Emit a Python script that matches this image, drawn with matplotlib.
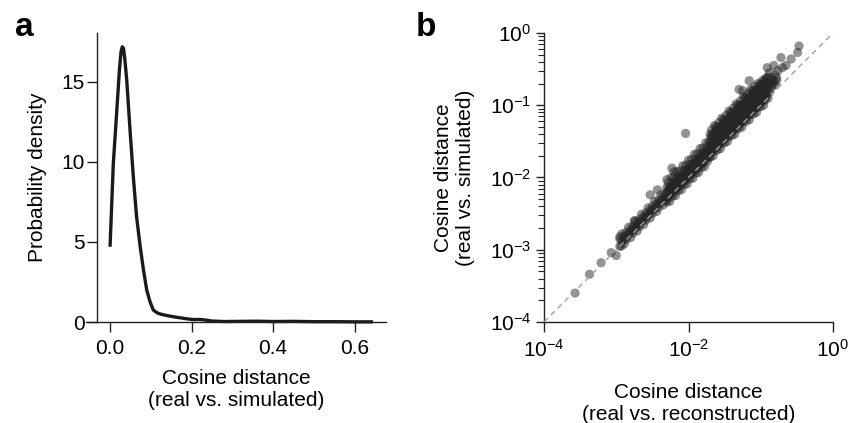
import numpy as np
import matplotlib.pyplot as plt
from matplotlib.ticker import LogLocator, NullLocator, NullFormatter

plt.rcParams['font.family'] = ['Liberation Sans', 'DejaVu Sans']
plt.rcParams['font.size'] = 15

# panel a: density of cosine distance (real vs simulated)
dens_x = [0.0, 0.008, 0.016, 0.023, 0.027, 0.030, 0.033, 0.036, 0.041, 0.049, 0.057,
          0.065, 0.074, 0.082, 0.090, 0.098, 0.106, 0.115, 0.123, 0.140, 0.155, 0.170,
          0.188, 0.205, 0.220, 0.235, 0.250, 0.280, 0.320, 0.360, 0.400, 0.450, 0.500,
          0.550, 0.600, 0.645]
dens_y = [4.7, 9.9, 13.0, 15.75, 16.9, 17.2, 17.1, 16.5, 15.1, 12.0, 9.1,
          6.6, 4.7, 3.25, 2.0, 1.27, 0.75, 0.58, 0.5, 0.4, 0.33, 0.27,
          0.2, 0.15, 0.16, 0.12, 0.06, 0.03, 0.04, 0.05, 0.03, 0.04, 0.02,
          0.02, 0.01, 0.01]

# panel b: log10 cosine distances, reconstructed (x) vs simulated (y)
# sparse points (tails and outliers)
sparse_x = [-3.57, -3.37, -3.21, -3.07, -3.00, -2.93, -2.95,
            -2.75, -2.53, -2.43, -2.30, -2.20, -2.23, -2.04,
            -1.30, -1.25, -1.16, -0.91, -0.82, -0.72, -0.65, -0.58, -0.49, -0.47,
            -0.88, -0.85, -0.80, -0.76, -0.70, -0.86, -0.83, -0.78,
            -0.88, -0.86, -0.84, -0.82, -0.80, -0.78]
sparse_y = [-3.60, -3.34, -3.18, -3.04, -3.08, -2.95, -2.82,
            -2.60, -2.24, -2.17, -2.03, -1.92, -1.87, -1.39,
            -0.78, -0.80, -0.66, -0.48, -0.45, -0.34, -0.45, -0.36, -0.27, -0.18,
            -0.55, -0.62, -0.58, -0.52, -0.48, -0.70, -0.66, -0.62,
            -0.82, -0.76, -0.72, -0.68, -0.72, -0.66]

# lower band: [x, y1, y2]
low_band = [
    [-2.95, -2.95, -2.85], [-2.92, -2.88, -2.78], [-2.89, -2.92, -2.81],
    [-2.86, -2.86, -2.76], [-2.83, -2.79, -2.69], [-2.80, -2.83, -2.72],
    [-2.77, -2.77, -2.67], [-2.74, -2.70, -2.60], [-2.71, -2.74, -2.63],
    [-2.68, -2.68, -2.58], [-2.65, -2.61, -2.51], [-2.62, -2.65, -2.54],
    [-2.59, -2.59, -2.49], [-2.56, -2.52, -2.42], [-2.53, -2.56, -2.45],
    [-2.50, -2.50, -2.40], [-2.47, -2.43, -2.33], [-2.44, -2.47, -2.36],
    [-2.41, -2.41, -2.31], [-2.38, -2.34, -2.24], [-2.35, -2.38, -2.27],
    [-2.32, -2.32, -2.22]]
low_fill = [
    [-2.90, -2.86], [-2.86, -2.82], [-2.82, -2.77], [-2.78, -2.73], [-2.74, -2.69],
    [-2.70, -2.66], [-2.66, -2.61], [-2.62, -2.57], [-2.58, -2.54], [-2.54, -2.49],
    [-2.50, -2.45], [-2.46, -2.42], [-2.42, -2.37], [-2.38, -2.33], [-2.34, -2.29]]

# middle band: [x, y1, y2, y3]
mid_band = [
    [-2.30, -2.34, -2.24, -2.14], [-2.28, -2.28, -2.18, -2.07], [-2.26, -2.33, -2.22, -2.13],
    [-2.24, -2.22, -2.12, -2.00], [-2.22, -2.26, -2.16, -2.06], [-2.20, -2.20, -2.10, -1.99],
    [-2.18, -2.25, -2.14, -2.05], [-2.16, -2.14, -2.04, -1.92], [-2.14, -2.18, -2.08, -1.98],
    [-2.12, -2.12, -2.02, -1.91], [-2.10, -2.17, -2.06, -1.97], [-2.08, -2.06, -1.96, -1.84],
    [-2.06, -2.10, -2.00, -1.90], [-2.04, -2.04, -1.94, -1.83], [-2.02, -2.09, -1.98, -1.89],
    [-2.00, -1.98, -1.88, -1.76], [-1.98, -2.02, -1.92, -1.82], [-1.96, -1.96, -1.86, -1.75],
    [-1.94, -2.01, -1.90, -1.81], [-1.92, -1.90, -1.80, -1.68], [-1.90, -1.94, -1.84, -1.74],
    [-1.88, -1.88, -1.78, -1.67], [-1.86, -1.93, -1.82, -1.73], [-1.84, -1.82, -1.72, -1.60],
    [-1.82, -1.86, -1.76, -1.66], [-1.80, -1.80, -1.70, -1.59], [-1.78, -1.85, -1.74, -1.65],
    [-1.76, -1.74, -1.64, -1.52], [-1.74, -1.78, -1.68, -1.58], [-1.72, -1.72, -1.62, -1.51]]
mid_fill = [
    [-2.29, -2.27, -2.19], [-2.25, -2.24, -2.15], [-2.21, -2.19, -2.11],
    [-2.17, -2.16, -2.07], [-2.13, -2.11, -2.03], [-2.09, -2.08, -1.99],
    [-2.05, -2.03, -1.95], [-2.01, -2.00, -1.91], [-1.97, -1.95, -1.87],
    [-1.93, -1.92, -1.83], [-1.89, -1.87, -1.79], [-1.85, -1.84, -1.75],
    [-1.81, -1.79, -1.71], [-1.77, -1.76, -1.67], [-1.73, -1.71, -1.63]]

# dense core: [x, y1, y2, y3, y4]
core_band = [
    [-1.70, -1.72, -1.61, -1.51, -1.40], [-1.68, -1.65, -1.55, -1.44, -1.34],
    [-1.66, -1.70, -1.60, -1.50, -1.39], [-1.64, -1.63, -1.53, -1.43, -1.28],
    [-1.62, -1.57, -1.47, -1.36, -1.30], [-1.60, -1.62, -1.51, -1.41, -1.30],
    [-1.58, -1.55, -1.45, -1.34, -1.24], [-1.56, -1.60, -1.50, -1.40, -1.29],
    [-1.54, -1.53, -1.43, -1.33, -1.18], [-1.52, -1.47, -1.37, -1.26, -1.20],
    [-1.50, -1.52, -1.41, -1.31, -1.20], [-1.48, -1.45, -1.35, -1.24, -1.14],
    [-1.46, -1.50, -1.40, -1.30, -1.19], [-1.44, -1.43, -1.33, -1.23, -1.08],
    [-1.42, -1.37, -1.27, -1.16, -1.10], [-1.40, -1.42, -1.31, -1.21, -1.10],
    [-1.38, -1.35, -1.25, -1.14, -1.04], [-1.36, -1.40, -1.30, -1.20, -1.09],
    [-1.34, -1.33, -1.23, -1.13, -0.98], [-1.32, -1.27, -1.17, -1.06, -1.00],
    [-1.30, -1.32, -1.21, -1.11, -1.00], [-1.28, -1.25, -1.15, -1.04, -0.94],
    [-1.26, -1.30, -1.20, -1.10, -0.99], [-1.24, -1.23, -1.13, -1.03, -0.88],
    [-1.22, -1.17, -1.07, -0.96, -0.90], [-1.20, -1.22, -1.11, -1.01, -0.90],
    [-1.18, -1.15, -1.05, -0.94, -0.84], [-1.16, -1.20, -1.10, -1.00, -0.89],
    [-1.14, -1.13, -1.03, -0.93, -0.78], [-1.12, -1.07, -0.97, -0.86, -0.80],
    [-1.10, -1.12, -1.01, -0.91, -0.80], [-1.08, -1.05, -0.95, -0.84, -0.74],
    [-1.06, -1.10, -1.00, -0.90, -0.79], [-1.04, -1.03, -0.93, -0.83, -0.70],
    [-1.02, -0.97, -0.87, -0.76, -0.72], [-1.00, -1.02, -0.91, -0.81, -0.71],
    [-0.98, -0.95, -0.85, -0.74, -0.66], [-0.96, -1.00, -0.90, -0.80, -0.68],
    [-0.94, -0.93, -0.83, -0.73, -0.64], [-0.92, -0.87, -0.77, -0.68, -0.62],
    [-0.90, -0.90, -0.80, -0.70, -0.61]]
core_fill = [
    [-1.69, -1.65, -1.54, -1.44], [-1.65, -1.60, -1.50, -1.41], [-1.61, -1.57, -1.46, -1.35],
    [-1.57, -1.52, -1.43, -1.32], [-1.53, -1.49, -1.38, -1.28], [-1.49, -1.44, -1.35, -1.24],
    [-1.45, -1.41, -1.30, -1.20], [-1.41, -1.36, -1.27, -1.16], [-1.37, -1.33, -1.22, -1.12],
    [-1.33, -1.28, -1.19, -1.08], [-1.29, -1.25, -1.14, -1.04], [-1.25, -1.20, -1.11, -1.00],
    [-1.21, -1.17, -1.06, -0.96], [-1.17, -1.12, -1.03, -0.92], [-1.13, -1.09, -0.98, -0.88],
    [-1.09, -1.04, -0.95, -0.84], [-1.05, -1.01, -0.90, -0.80], [-1.01, -0.96, -0.87, -0.76],
    [-0.97, -0.93, -0.82, -0.72], [-0.93, -0.88, -0.79, -0.68]]


def unpack(rows):
    arr = np.array(rows)
    n = arr.shape[1] - 1
    return np.repeat(arr[:, 0], n), arr[:, 1:].ravel()


bx, by = [np.array(sparse_x)], [np.array(sparse_y)]
for band in (low_band, low_fill, mid_band, mid_fill, core_band, core_fill):
    xx, yy = unpack(band)
    bx.append(xx)
    by.append(yy)
rec_x = 10 ** np.concatenate(bx)
sim_y = 10 ** np.concatenate(by)

fig = plt.figure(figsize=(8.49, 4.23), dpi=100)
ink = '#222222'

# ---- panel a
ax1 = fig.add_axes([86 / 849, 101 / 423, 300 / 849, 289 / 423])
ax1.plot(dens_x, dens_y, color='#1a1a1a', lw=2.4, solid_capstyle='butt', clip_on=False)
ax1.set_xlim(-0.059, 0.677)
ax1.set_ylim(0, 18.06)
ax1.spines['left'].set_position(('data', -0.032))
ax1.set_xticks([0, 0.2, 0.4, 0.6])
ax1.set_yticks([0, 5, 10, 15])
ax1.set_xlabel('Cosine distance\n(real vs. simulated)', labelpad=8)
ax1.set_ylabel('Probability density', labelpad=10)
ax1.tick_params(axis='x', length=7, width=1, color=ink, pad=5)
ax1.tick_params(axis='y', length=7, width=1, color=ink, pad=2)

# ---- panel b
ax2 = fig.add_axes([544 / 849, 101 / 423, 289 / 849, 289 / 423])
ax2.scatter(rec_x, sim_y, s=44, color='#262626', alpha=0.5, edgecolors='none', zorder=2)
ax2.plot([1e-4, 1], [1e-4, 1], color='#a0a0a0', lw=1, ls=(0, (4, 3)), zorder=3)
ax2.set_xscale('log')
ax2.set_yscale('log')
ax2.set_xlim(1e-4, 1)
ax2.set_ylim(1e-4, 1)
ax2.set_xticks([1e-4, 1e-2, 1])
ax2.xaxis.set_minor_locator(NullLocator())
ax2.set_yticks([1e-4, 1e-3, 1e-2, 1e-1, 1])
ax2.yaxis.set_minor_locator(LogLocator(base=10, subs=np.arange(2, 10)))
ax2.yaxis.set_minor_formatter(NullFormatter())
ax2.set_xlabel('Cosine distance\n(real vs. reconstructed)', labelpad=16)
ax2.set_ylabel('Cosine distance\n(real vs. simulated)', labelpad=11)
ax2.tick_params(axis='x', length=7, width=1, color=ink, pad=5)
ax2.tick_params(axis='y', which='major', length=6, width=1, color=ink, pad=3)
ax2.tick_params(axis='y', which='minor', length=4, width=0.8, color=ink)

for ax in (ax1, ax2):
    for side in ('top', 'right'):
        ax.spines[side].set_visible(False)
    for side in ('left', 'bottom'):
        ax.spines[side].set_color(ink)
        ax.spines[side].set_linewidth(1)

fig.text(15 / 849, 1 - 36 / 423, 'a', fontsize=24, fontweight='bold', va='baseline')
fig.text(416 / 849, 1 - 36 / 423, 'b', fontsize=24, fontweight='bold', va='baseline')

fig.savefig('out.png', dpi=100)
